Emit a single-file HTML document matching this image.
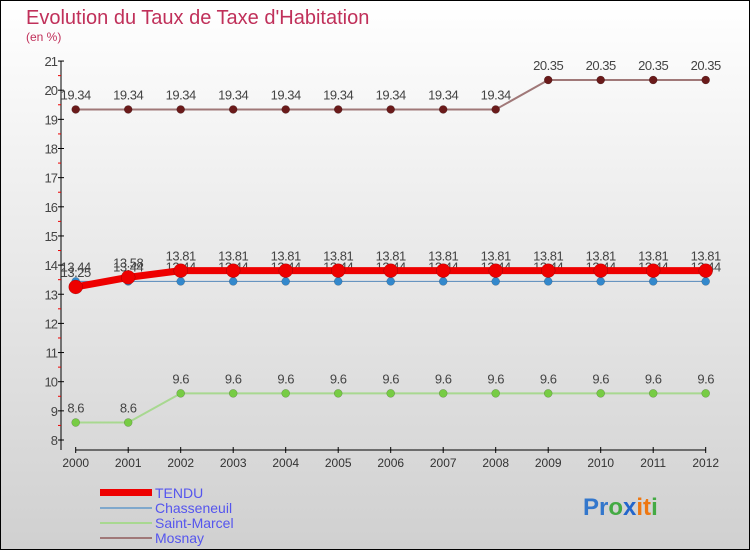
<!DOCTYPE html>
<html><head><meta charset="utf-8"><style>
body{margin:0}
#c{position:relative;width:750px;height:550px;box-sizing:border-box;border:1px solid #000;background:linear-gradient(#ffffff,#d0d0d0);overflow:hidden;font-family:"Liberation Sans",sans-serif}
</style></head><body>
<div id="c">
<svg id="s" width="750" height="550" style="position:absolute;left:-1px;top:-1px">
<text x="26" y="24" font-size="20" fill="#c0305a">Evolution du Taux de Taxe d'Habitation</text>
<text x="26" y="41" font-size="12" fill="#c0305a">(en %)</text>
<g id="axes"></g><g id="series"></g>
<g>
<rect x="100" y="489" width="52" height="7" fill="#ee0000"/>
<text x="155" y="498" font-size="14" fill="#5555ee">TENDU</text>
<rect x="100" y="507" width="52" height="2" fill="#7fa8cc"/>
<text x="155" y="513" font-size="14" fill="#5555ee">Chasseneuil</text>
<rect x="100" y="522" width="52" height="2" fill="#a8d890"/>
<text x="155" y="528" font-size="14" fill="#5555ee">Saint-Marcel</text>
<rect x="100" y="537" width="52" height="2" fill="#a07878"/>
<text x="155" y="543" font-size="14" fill="#5555ee">Mosnay</text>
</g>
<text x="583" y="515" font-size="24" font-weight="bold"><tspan fill="#3377cc">Pr</tspan><tspan fill="#44aa44">o</tspan><tspan fill="#2266cc">x</tspan><tspan fill="#ee7711">it</tspan><tspan fill="#44aa44">i</tspan></text>
</svg>
</div>
<script>
const years=[2000,2001,2002,2003,2004,2005,2006,2007,2008,2009,2010,2011,2012];
const yTicks=[8,9,10,11,12,13,14,15,16,17,18,19,20,21];
const tendu=[13.25,13.58,13.81,13.81,13.81,13.81,13.81,13.81,13.81,13.81,13.81,13.81,13.81];
const chasseneuil=[13.44,13.44,13.44,13.44,13.44,13.44,13.44,13.44,13.44,13.44,13.44,13.44,13.44];
const saintMarcel=[8.6,8.6,9.6,9.6,9.6,9.6,9.6,9.6,9.6,9.6,9.6,9.6,9.6];
const mosnay=[19.34,19.34,19.34,19.34,19.34,19.34,19.34,19.34,19.34,20.35,20.35,20.35,20.35];
const NS="http://www.w3.org/2000/svg";
const X=i=>75.7+i*52.5;
const Y=v=>440-(v-8)*29.15;
function mk(t,a,p){const e=document.createElementNS(NS,t);for(const k in a)e.setAttribute(k,a[k]);p.appendChild(e);return e;}
const ax=document.getElementById('axes');
const yl=mk('line',{x1:61,y1:Y(21),x2:61,y2:450,stroke:'#000'},ax);


const xl=mk('line',{x1:X(0),y1:450,x2:X(12),y2:450,stroke:'#000'},ax);


yTicks.forEach(v=>{
 mk('line',{x1:58,y1:Y(v),x2:64,y2:Y(v),stroke:'#000'},ax);
 if(v<21){mk('line',{x1:58,y1:Y(v+0.5),x2:61,y2:Y(v+0.5),stroke:'#e00'},ax);}
 const t=mk('text',{x:57,y:Y(v)+5,'text-anchor':'end','font-size':13,fill:'#444','letter-spacing':'-1'},ax);
 t.textContent=v;
 
 
});
years.forEach((yr,i)=>{
 mk('line',{x1:X(i),y1:447,x2:X(i),y2:453,stroke:'#000'},ax);
 const t=mk('text',{x:X(i),y:467,'text-anchor':'middle','font-size':12,fill:'#333'},ax);
 t.textContent=yr;
 
 
});
const sg=document.getElementById('series');
function series(vals,name,line,dot,lw,r,lab){
 const g=mk('g',{},sg);
 
 
 mk('polyline',{points:vals.map((v,i)=>X(i)+','+Y(v)).join(' '),fill:'none',stroke:line,'stroke-width':lw,'stroke-linejoin':'round'},g);
 vals.forEach((v,i)=>{
  const c=mk('circle',{cx:X(i),cy:Y(v),r:r,fill:dot,stroke:'rgba(0,0,0,0.3)','stroke-width':0.5},g);
  
  
  const t=mk('text',{x:X(i),y:Y(v)-lab,'text-anchor':'middle','font-size':13,fill:'#444','letter-spacing':'-0.5'},g);
  t.textContent=v;
  
  
 });
}
series(mosnay,'mosnay','#a07878','#6a1a1a',2,4,10);
series(saintMarcel,'saint-marcel','#a8d890','#77cc44',2,4,10);
series(chasseneuil,'chasseneuil','#5588bb','#3388cc',1,4,10);
series(tendu,'tendu','#ee0000','#ee0000',7,7,10);
</script>
</body></html>
